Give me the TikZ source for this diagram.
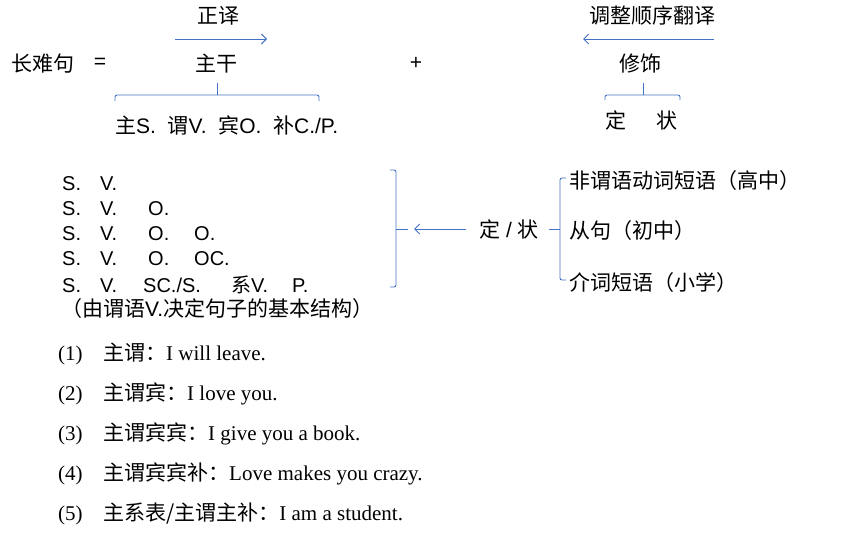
\documentclass[tikz,border=0pt]{standalone}
\usepackage{fontspec}
\setmainfont{Liberation Sans}
\newfontfamily\cjkfont{Noto Sans CJK SC}
\newfontfamily\serifont{Liberation Serif}
\usetikzlibrary{arrows.meta}

\newlength{\du}
\setlength{\du}{1pt}
\newcommand{\zh}[1]{{\cjkfont#1}}
\newcommand{\svcol}[2]{\makebox[#1\du][l]{#2}}
\definecolor{dialinecolor}{rgb}{0.266667, 0.447059, 0.768627}

\tikzset{
  txt/.style={inner sep=0pt, font=\fontsize{21}{25}\selectfont},
  svtxt/.style={inner sep=0pt, anchor=west, font=\fontsize{20}{24}\selectfont},
  extxt/.style={inner sep=0pt, anchor=west, font=\serifont\fontsize{21}{25}\selectfont},
  blueline/.style={draw=dialinecolor, line width=0.9pt},
  bluearrow/.style={blueline, -{Straight Barb[length=5pt,width=10pt]}},
}

\begin{document}
\begin{tikzpicture}
\pgftransformxscale{1.000000}
\pgftransformyscale{-1.000000}
\useasboundingbox (0\du,0\du) rectangle (855\du,541\du);
% top line
\node[txt, anchor=west] (longsent) at (11\du,64\du){\zh{长难句}};
\node[txt] (equal) at (100\du,63\du){=};
\node[txt] (zhengyi) at (218\du,16\du){\zh{正译}};
\coordinate (zyleft) at (175\du,39\du);
\coordinate (zyright) at (267\du,39\du);
\draw[bluearrow] (zyleft)--(zyright);
\node[txt] (zhugan) at (216\du,64\du){\zh{主干}};
\node[txt] (plus) at (416\du,63\du){+};
\node[txt] (tiaozheng) at (652\du,16\du){\zh{调整顺序翻译}};
\coordinate (tzright) at (714\du,39\du);
\coordinate (tzleft) at (583\du,39\du);
\draw[bluearrow] (tzright)--(tzleft);
\node[txt] (xiushi) at (640\du,64\du){\zh{修饰}};
% brace under the trunk
\draw[blueline, rounded corners=2\du] (115\du,101\du)--(115\du,95\du)--(319\du,95\du)--(319\du,101\du);
\draw[blueline] (217\du,95\du)--(217\du,83\du);
\node[txt, anchor=west] (parts) at (115\du,125\du){\zh{主}S.\ \ \zh{谓}V.\ \ \zh{宾}O.\ \ \zh{补}C./P.};
% brace under the modifier
\draw[blueline, rounded corners=2\du] (605\du,100\du)--(605\du,95\du)--(680\du,95\du)--(680\du,100\du);
\draw[blueline] (643\du,95\du)--(643\du,83\du);
\node[txt] (ding) at (616\du,120\du){\zh{定}};
\node[txt] (zhuang) at (667\du,120\du){\zh{状}};
% sentence patterns
\node[svtxt] (sv1) at (62\du,184\du){\svcol{38}{S.}V.};
\node[svtxt] (sv2) at (62\du,209\du){\svcol{38}{S.}\svcol{48}{V.}O.};
\node[svtxt] (sv3) at (62\du,234\du){\svcol{38}{S.}\svcol{48}{V.}\svcol{46}{O.}O.};
\node[svtxt] (sv4) at (62\du,259\du){\svcol{38}{S.}\svcol{48}{V.}\svcol{46}{O.}OC.};
\node[svtxt] (sv5) at (62\du,285\du){\svcol{38}{S.}\svcol{43}{V.}\svcol{88}{SC./S.}\svcol{61}{\zh{系}V.}P.};
\node[txt, anchor=west] (svnote) at (61\du,309\du){\zh{（由谓语}V.\zh{决定句子的基本结构）}};
% bracket and modifiers
\draw[blueline, rounded corners=2\du] (390\du,170\du)--(396\du,170\du)--(396\du,287\du)--(390\du,287\du);
\draw[blueline] (396\du,229\du)--(408\du,229\du);
\coordinate (brtip) at (414\du,229\du);
\node[txt] (dingzhuang) at (509\du,229\du){\zh{定} / \zh{状}};
\draw[bluearrow] ([xshift=-13\du]dingzhuang.west)--(brtip);
\coordinate (optmid) at (560\du,229\du);
\draw[blueline] ([xshift=10\du]dingzhuang.east)--(optmid);
\draw[blueline, rounded corners=2\du] (566\du,178\du)--(560\du,178\du)--(560\du,280\du)--(566\du,280\du);
\node[txt, anchor=west] (opt1) at (569\du,181\du){\zh{非谓语动词短语（高中）}};
\node[txt, anchor=west] (opt2) at (569\du,231\du){\zh{从句（初中）}};
\node[txt, anchor=west] (opt3) at (569\du,283\du){\zh{介词短语（小学）}};
% examples
\node[extxt] (ex1) at (58\du,354\du){\svcol{45}{(1)}\zh{主谓：}I will leave.};
\node[extxt] (ex2) at (58\du,394\du){\svcol{45}{(2)}\zh{主谓宾：}I love you.};
\node[extxt] (ex3) at (58\du,434\du){\svcol{45}{(3)}\zh{主谓宾宾：}I give you a book.};
\node[extxt] (ex4) at (58\du,474\du){\svcol{45}{(4)}\zh{主谓宾宾补：}Love makes you crazy.};
\node[extxt] (ex5) at (58\du,514\du){\svcol{45}{(5)}\zh{主系表/主谓主补：}I am a student.};
\end{tikzpicture}
\end{document}
